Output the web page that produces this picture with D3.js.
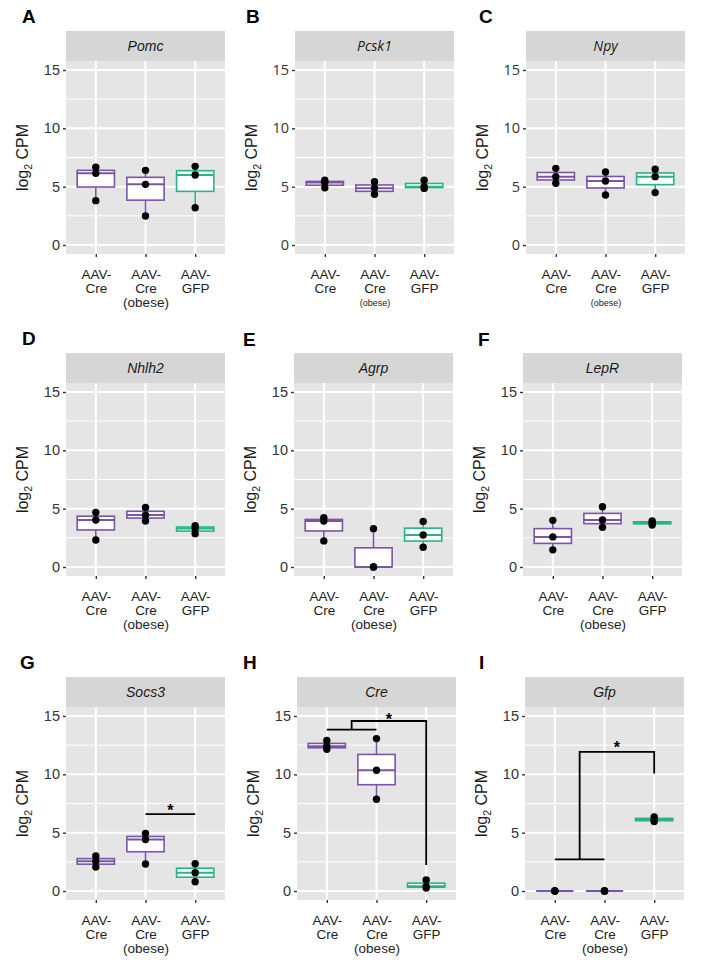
<!DOCTYPE html>
<html><head><meta charset="utf-8">
<script src="https://cdn.jsdelivr.net/npm/d3@7"></script>
<style>body{margin:0;background:#fff}</style>
</head><body><svg id="c" width="714" height="976"></svg>
<script>
const panelLetters = ["A","B","C","D","E","F","G","H","I"];
const genes = ["Pomc","Pcsk1","Npy","Nhlh2","Agrp","LepR","Socs3","Cre","Gfp"];
const groups = ["AAV-Cre","AAV-Cre (obese)","AAV-GFP"];
const groupLabels = [["AAV-","Cre"],["AAV-","Cre","(obese)"],["AAV-","GFP"]];
const yTicks = [0,5,10,15];
const yMinor = [2.5,7.5,12.5];

// log2 CPM per group (3 samples each)
const pomc  = [[6.66,6.14,3.8],[6.4,5.2,2.49],[6.74,6.0,3.2]];
const pcsk1 = [[5.55,5.35,4.9],[5.43,4.86,4.34],[5.55,5.0,4.85]];
const npy   = [[6.57,5.86,5.29],[6.26,5.49,4.29],[6.49,5.86,4.49]];
const nhlh2 = [[4.68,4.03,2.32],[5.1,4.45,3.94],[3.55,3.3,2.86]];
const agrp  = [[4.22,3.94,2.24],[3.29,0,0],[3.91,2.75,1.7]];
const lepr  = [[4.0,2.58,1.47],[5.16,4.03,3.4],[3.95,3.8,3.6]];
const socs3 = [[3.0,2.55,2.05],[4.93,4.42,2.31],[2.34,1.57,0.8]];
const cre   = [[12.9,12.4,12.15],[13.06,10.35,7.87],[0.95,0.4,0.25]];
const gfp   = [[0,0,0],[0,0,0],[6.35,6.1,5.95]];
const geneValues = [pomc,pcsk1,npy,nhlh2,agrp,lepr,socs3,cre,gfp];

// significance annotations (levels in log2 CPM)
const socs3Sig = {from:1, to:2, y:6.59, star:7.22};
const creSig   = {left:[0,1], leftY:13.83, right:2, topY:14.57, rightY:2.22, star:15.02};
const gfpSig   = {left:[0,1], leftY:2.71, right:2, topY:11.92, rightY:10.07, star:12.62};

const svg = d3.select("#c");
svg.append("rect").attr("width",714).attr("height",976).attr("fill","#fff");

const stripTops = [31,353,677];
const colLefts = [[66,295,526],[66,294,523],[66,297,525]];
const panelW = 159, stripH = 30, panelH = 193;
const purple = "#7b54a8", green = "#27b487";
const groupColor = [purple, purple, green];
const letterPos = [[22,23],[246,23],[479,23],[22,345],[243,346],[478,346],[20,669],[243,669],[479,669]];
const arial = "'Liberation Sans', Arial, Helvetica, sans-serif";

genes.forEach((gene,i)=>{
  const r = Math.floor(i/3), c = i%3;
  const x0 = colLefts[r][c], sTop = stripTops[r], top = sTop+stripH, bottom = top+panelH;
  const alt = (i===1||i===2);
  const font = alt ? "'Open Sans', sans-serif" : arial;
  const g = svg.append("g");
  const y = d3.scaleLinear().domain([-0.77,15.77]).range([bottom,top]);
  const x = d3.scalePoint().domain(groups).range([x0,x0+panelW]).padding(0.6);

  svg.append("text").attr("x",letterPos[i][0]).attr("y",letterPos[i][1])
    .attr("font-family","'Liberation Sans', Arial, sans-serif").attr("font-weight","bold")
    .attr("font-size",19).attr("fill","#000").text(panelLetters[i]);

  g.append("rect").attr("x",x0).attr("y",sTop).attr("width",panelW).attr("height",stripH).attr("fill","#d6d6d6");
  g.append("text").attr("x",x0+panelW/2).attr("y",sTop+stripH/2+5).attr("text-anchor","middle")
    .attr("font-style","italic").attr("font-size",14).attr("font-family",font).attr("fill","#1a1a1a").text(gene);

  g.append("rect").attr("x",x0).attr("y",top).attr("width",panelW).attr("height",panelH).attr("fill","#e5e5e5");
  yMinor.forEach(v=>g.append("line").attr("x1",x0).attr("x2",x0+panelW).attr("y1",y(v)).attr("y2",y(v))
    .attr("stroke","#fff").attr("stroke-width",1));
  yTicks.forEach(v=>g.append("line").attr("x1",x0).attr("x2",x0+panelW).attr("y1",y(v)).attr("y2",y(v))
    .attr("stroke","#fff").attr("stroke-width",2));
  groups.forEach(k=>g.append("line").attr("x1",x(k)).attr("x2",x(k)).attr("y1",top).attr("y2",bottom)
    .attr("stroke","#fff").attr("stroke-width",2));

  const ya = g.append("g").attr("transform",`translate(${x0},0)`)
    .call(d3.axisLeft(y).tickValues(yTicks).tickSize(3).tickPadding(3));
  ya.select(".domain").remove();
  ya.selectAll(".tick line").attr("stroke","#333").attr("stroke-width",1.4);
  ya.selectAll(".tick text").attr("font-size",14.5).attr("font-family",font).attr("fill","#333");

  const xa = g.append("g").attr("transform",`translate(0,${bottom})`)
    .call(d3.axisBottom(x).tickSize(3).tickPadding(3).tickFormat(""));
  xa.select(".domain").remove();
  xa.selectAll(".tick line").attr("stroke","#333").attr("stroke-width",1.4);
  xa.selectAll(".tick text").each(function(d,j){
    const t = d3.select(this).attr("font-family",arial).attr("fill","#222").attr("font-size",13.5).attr("y",0).attr("dy",null);
    groupLabels[j].forEach((ln,k)=>{
      const small = alt && ln==="(obese)";
      t.append("tspan").attr("x",0).attr("y",25+k*14 - (small?1:0)).attr("font-size",small?9:13.5).text(ln);
    });
  });

  const yt = g.append("text").attr("transform",`translate(${x0-38},${(top+bottom)/2}) rotate(-90)`)
    .attr("text-anchor","middle").attr("font-family",arial).attr("font-size",16).attr("fill","#1a1a1a");
  yt.append("tspan").text("log");
  yt.append("tspan").attr("font-size",10.5).attr("dy",4).text("2");
  yt.append("tspan").attr("dy",-4).text(" CPM");

  const bw = x.step()*0.75;
  geneValues[i].forEach((vals,j)=>{
    const k = groups[j], cx = x(k), col = groupColor[j];
    const s = vals.slice().sort(d3.ascending);
    const q1 = d3.quantileSorted(s,0.25), med = d3.quantileSorted(s,0.5), q3 = d3.quantileSorted(s,0.75);
    const iqr = q3-q1;
    const lo = d3.min(s.filter(v=>v>=q1-1.5*iqr)), hi = d3.max(s.filter(v=>v<=q3+1.5*iqr));
    g.append("line").attr("x1",cx).attr("x2",cx).attr("y1",y(hi)).attr("y2",y(q3)).attr("stroke",col).attr("stroke-width",1.6);
    g.append("line").attr("x1",cx).attr("x2",cx).attr("y1",y(q1)).attr("y2",y(lo)).attr("stroke",col).attr("stroke-width",1.6);
    g.append("rect").attr("x",cx-bw/2).attr("y",y(q3)).attr("width",bw).attr("height",Math.max(0,y(q1)-y(q3)))
      .attr("fill","#fff").attr("stroke",col).attr("stroke-width",1.6);
    g.append("line").attr("x1",cx-bw/2).attr("x2",cx+bw/2).attr("y1",y(med)).attr("y2",y(med)).attr("stroke",col).attr("stroke-width",2);
  });
  geneValues[i].forEach((vals,j)=>{
    vals.forEach(v=>g.append("circle").attr("cx",x(groups[j])).attr("cy",y(v)).attr("r",3.7).attr("fill","#000"));
  });

  const star = (sx,sv)=>g.append("text").attr("x",sx).attr("y",y(sv)+9).attr("text-anchor","middle")
      .attr("font-family",arial).attr("font-weight","bold").attr("font-size",16).attr("fill","#000").text("*");

  if (gene==="Socs3") {
    const a = x(groups[socs3Sig.from]), b = x(groups[socs3Sig.to]);
    g.append("line").attr("x1",a).attr("x2",b).attr("y1",y(socs3Sig.y)).attr("y2",y(socs3Sig.y)).attr("stroke","#000").attr("stroke-width",1.8);
    star((a+b)/2, socs3Sig.star);
  }
  [[ "Cre", creSig ],[ "Gfp", gfpSig ]].forEach(([name,s])=>{
    if (gene!==name) return;
    const la = x(groups[s.left[0]]), lb = x(groups[s.left[1]]), m = (la+lb)/2, rx = x(groups[s.right]);
    g.append("line").attr("x1",la).attr("x2",lb).attr("y1",y(s.leftY)).attr("y2",y(s.leftY)).attr("stroke","#000").attr("stroke-width",1.8);
    g.append("path").attr("d",`M${m},${y(s.leftY)}V${y(s.topY)}H${rx}V${y(s.rightY)}`)
      .attr("fill","none").attr("stroke","#000").attr("stroke-width",1.8);
    star((m+rx)/2, s.star);
  });
});
</script></body></html>
